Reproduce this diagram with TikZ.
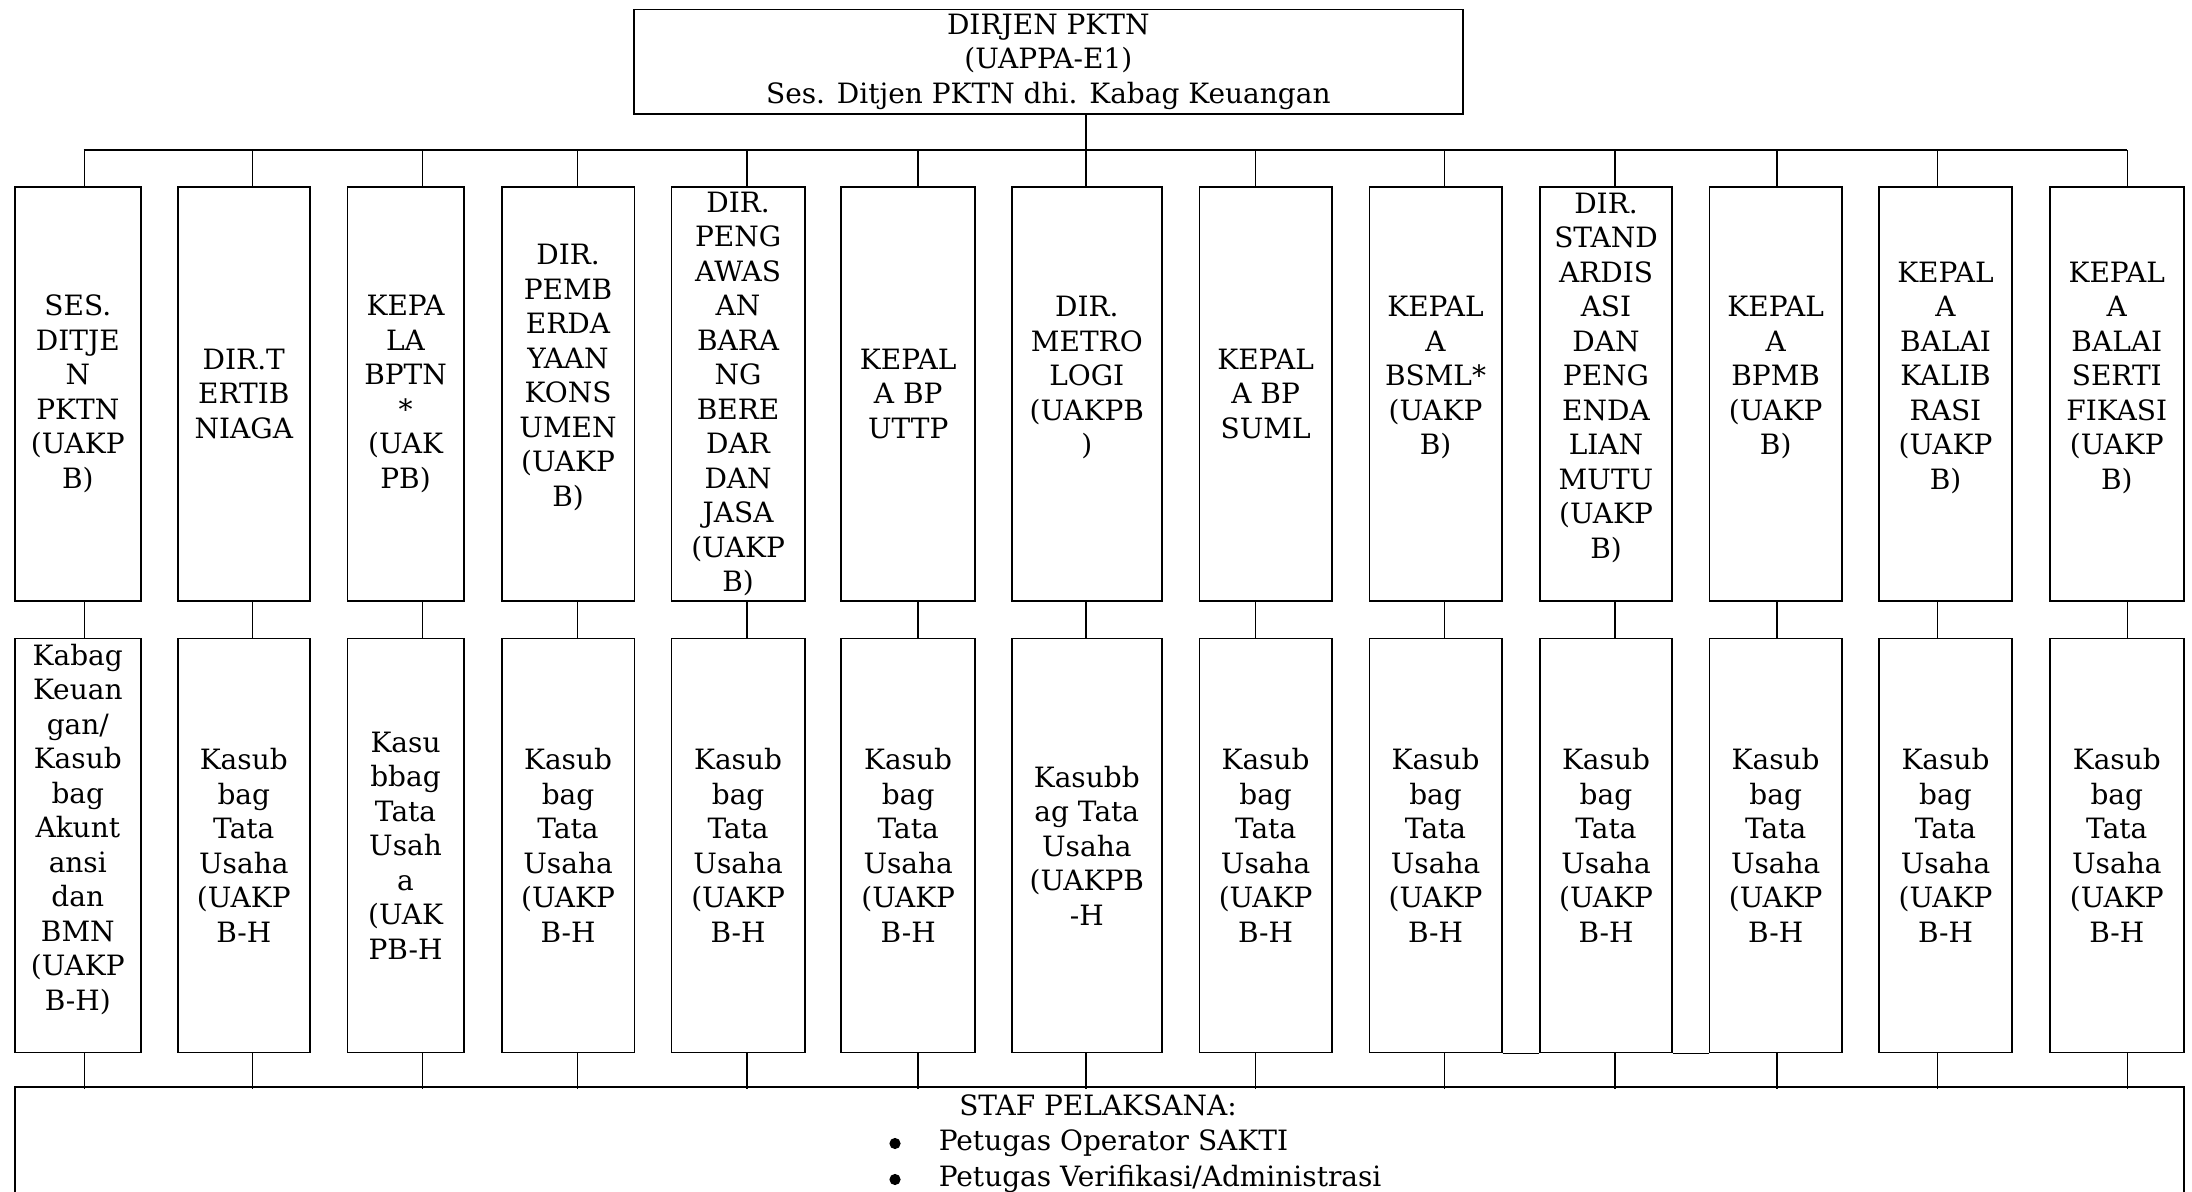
\documentclass[tikz,border=0pt]{standalone}
\usepackage{fontspec}
\setmainfont{DejaVu Serif}
\usepackage{tikz}
\usetikzlibrary{positioning}
% extra empty line: lifts the text of a box a little
\newcommand\lift{\\[-4pt]\strut}

\begin{document}
\begin{tikzpicture}[x=0.5pt, y=-0.5pt, line width=0.8pt,
    every node/.style={font=\fontsize{14}{17.25}\selectfont},
    unit/.style={draw, rectangle, inner sep=0pt, align=center, minimum height=207pt}]
    \useasboundingbox (0,0) rectangle (2192,1192);
    % Head
    \node[unit, anchor=north west, minimum width=414.5pt, minimum height=52.3pt] (dirjen) at (633,8.7)
        {DIRJEN PKTN\\(UAPPA-E1)\\Ses. Ditjen PKTN dhi. Kabag Keuangan};
    \draw ([xshift=18.9pt]dirjen.south) -- ++(0,36.7);
    \draw (83.7,150) -- (2126.7,150);
    % Staff
    \node[unit, anchor=north west, minimum width=1084.5pt, minimum height=150pt] (staf) at (14,1086) {};
    % Units and their Kasubbag
    \foreach \n/\x/\w/\c/\utext/\ltext in {
        1/14/126/83.7/{SES.\\DITJE\\N\\PKTN\\(UAKP\\B)}/{Kabag\\Keuan\\gan/\\Kasub\\bag\\Akunt\\ansi\\dan\\BMN\\(UAKP\\B-H)\lift},
        2/177/132/251.7/{DIR.T\\ERTIB\\NIAGA}/{Kasub\\bag\\Tata\\Usaha\\(UAKP\\B-H},
        3/346.5/116.5/421.6/{KEPA\\LA\\BPTN\\*\\(UAK\\PB)}/{Kasu\\bbag\\Tata\\Usah\\a\\(UAK\\PB-H},
        4/501/132.5/576.6/{DIR.\\PEMB\\ERDA\\YAAN\\KONS\\UMEN\\(UAKP\\B)\lift}/{Kasub\\bag\\Tata\\Usaha\\(UAKP\\B-H},
        5/670.6/133.4/746.4/{DIR.\\PENG\\AWAS\\AN\\BARA\\NG\\BERE\\DAR\\DAN\\JASA\\(UAKP\\B)}/{Kasub\\bag\\Tata\\Usaha\\(UAKP\\B-H},
        6/840.4/134/917/{KEPAL\\A BP\\UTTP}/{Kasub\\bag\\Tata\\Usaha\\(UAKP\\B-H},
        7/1011/150/1085.3/{DIR.\\METRO\\LOGI\\(UAKPB\\)\lift}/{Kasubb\\ag Tata\\Usaha\\(UAKPB\\-H},
        8/1198.6/132.4/1254.7/{KEPAL\\A BP\\SUML}/{Kasub\\bag\\Tata\\Usaha\\(UAKP\\B-H},
        9/1368.5/132.5/1443.5/{KEPAL\\A\\BSML*\\(UAKP\\B)\lift}/{Kasub\\bag\\Tata\\Usaha\\(UAKP\\B-H},
        10/1539/132.4/1614/{DIR.\\STAND\\ARDIS\\ASI\\DAN\\PENG\\ENDA\\LIAN\\MUTU\\(UAKP\\B)\lift}/{Kasub\\bag\\Tata\\Usaha\\(UAKP\\B-H},
        11/1708.6/132.6/1776/{KEPAL\\A\\BPMB\\(UAKP\\B)\lift}/{Kasub\\bag\\Tata\\Usaha\\(UAKP\\B-H},
        12/1878.4/132.6/1936.6/{KEPAL\\A\\BALAI\\KALIB\\RASI\\(UAKP\\B)\lift}/{Kasub\\bag\\Tata\\Usaha\\(UAKP\\B-H},
        13/2049/134/2126.7/{KEPAL\\A\\BALAI\\SERTI\\FIKASI\\(UAKP\\B)\lift}/{Kasub\\bag\\Tata\\Usaha\\(UAKP\\B-H}}{
        \pgfmathsetmacro\d{(\c-\x-\w/2)/2}
        \node[unit, anchor=north west, minimum width=\w/2*1pt] (dir\n) at (\x,186) {\utext};
        \node[unit, below=18pt of dir\n, minimum width=\w/2*1pt] (sub\n) {\ltext};
        \draw ([xshift=\d pt]dir\n.north) -- ++(0,-36);
        \draw ([xshift=\d pt]dir\n.south) -- ([xshift=\d pt]sub\n.north);
        \draw ([xshift=\d pt]sub\n.south) -- ++(0,35.3);
    }
    \draw[line width=0.5pt] (sub9.south east) -- (sub10.south west)
        (sub10.south east) -- (sub11.south west);
    % Staff text
    \node[anchor=base] (staftitle) at (1098,1115.5) {STAF PELAKSANA:};
    \foreach \i/\yy/\duty in {1/1150/{Petugas Operator SAKTI}, 2/1186/{Petugas Verifikasi/Administrasi}}{
        \node[circle, fill, inner sep=0pt, minimum size=5.6pt] (dot\i) at (895,\yy-6.5) {};
        \node[anchor=base west, inner sep=0pt] (duty\i) at (938,\yy) {\duty};
    }
\end{tikzpicture}
\end{document}
